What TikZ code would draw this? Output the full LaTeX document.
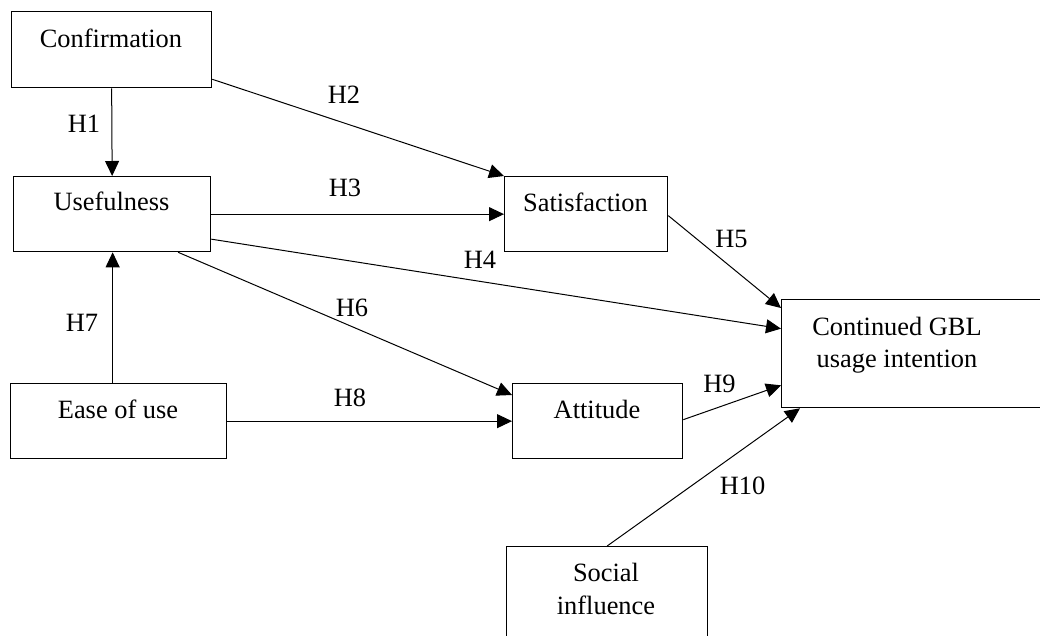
\documentclass[tikz,border=0pt]{standalone}
\usepackage{fontspec}
\setmainfont{Liberation Serif}
\usetikzlibrary{arrows.meta}
\begin{document}
\begin{tikzpicture}[x=1pt,y=-1pt,
  box/.style={draw,line width=1.3pt,inner sep=0pt,anchor=north west,rectangle},
  txt/.style={anchor=base,inner sep=0pt,font=\fontsize{26.4}{32}\selectfont,align=center},
  hl/.style={anchor=base,inner sep=0pt,font=\fontsize{26.4}{32}\selectfont},
  arr/.style={line width=1pt,-{Triangle[length=15pt,width=14pt]}}]
\useasboundingbox (0,0) rectangle (1040,635);
\clip (0,0) rectangle (1040,635);
% boxes
\node[box,minimum width=200pt,minimum height=76pt] (conf) at (11,11) {};
\node[box,minimum width=197pt,minimum height=75pt] (use) at (13,176) {};
\node[box,minimum width=163pt,minimum height=75pt] (sat) at (504,176) {};
\node[box,minimum width=300pt,minimum height=108pt] (cont) at (781,299) {};
\node[box,minimum width=170pt,minimum height=75pt] (att) at (512,383) {};
\node[box,minimum width=216pt,minimum height=75pt] (ease) at (10,383) {};
\node[box,minimum width=201pt,minimum height=120pt] (soc) at (506,546) {};
% box texts
\node[txt] (tconf) at (111,47.7) {Confirmation};
\node[txt] (tuse) at (111.5,210.7) {Usefulness};
\node[txt] (tsat) at (585.5,211) {Satisfaction};
\node[txt] (tcont1) at (897,335) {Continued GBL};
\node[txt] (tcont2) at (897,367) {usage intention};
\node[txt] (tatt) at (597,418) {Attitude};
\node[txt] (tease) at (118,418.7) {Ease of use};
\node[txt] (tsoc1) at (606,581.7) {Social};
\node[txt] (tsoc2) at (606,614) {influence};
% connectors
\draw[arr] (conf.south) -- (use.north);
\draw[arr] ([yshift=9pt]conf.south east) -- (sat.north west);
\draw[arr] (use.east) -- (sat.west);
\draw[arr] ([yshift=-25pt]use.east) -- ([yshift=25pt]cont.west);
\draw[arr] ([yshift=-1.5pt]sat.east) -- ([yshift=-9pt]cont.north west);
\draw[arr] ([xshift=66pt]use.south) -- ([yshift=-12pt]att.north west);
\draw[arr] ([xshift=-6pt]ease.north) -- ([xshift=0.5pt]use.south);
\draw[arr] (ease.east) -- (att.west);
\draw[arr] ([yshift=1.5pt]att.east) -- ([yshift=23pt]cont.south west);
\draw[arr] (soc.north) -- ([xshift=19pt]cont.south west);
% labels
\node[hl] (h1) at (84,132.7) {H1};
\node[hl] (h2) at (344,103.3) {H2};
\node[hl] (h3) at (345,196) {H3};
\node[hl] (h4) at (480,268) {H4};
\node[hl] (h5) at (731.5,247.7) {H5};
\node[hl] (h6) at (352,316.7) {H6};
\node[hl] (h7) at (82,331) {H7};
\node[hl] (h8) at (350,406.7) {H8};
\node[hl] (h9) at (719.5,392) {H9};
\node[hl] (h10) at (742.5,494) {H10};
\end{tikzpicture}
\end{document}
